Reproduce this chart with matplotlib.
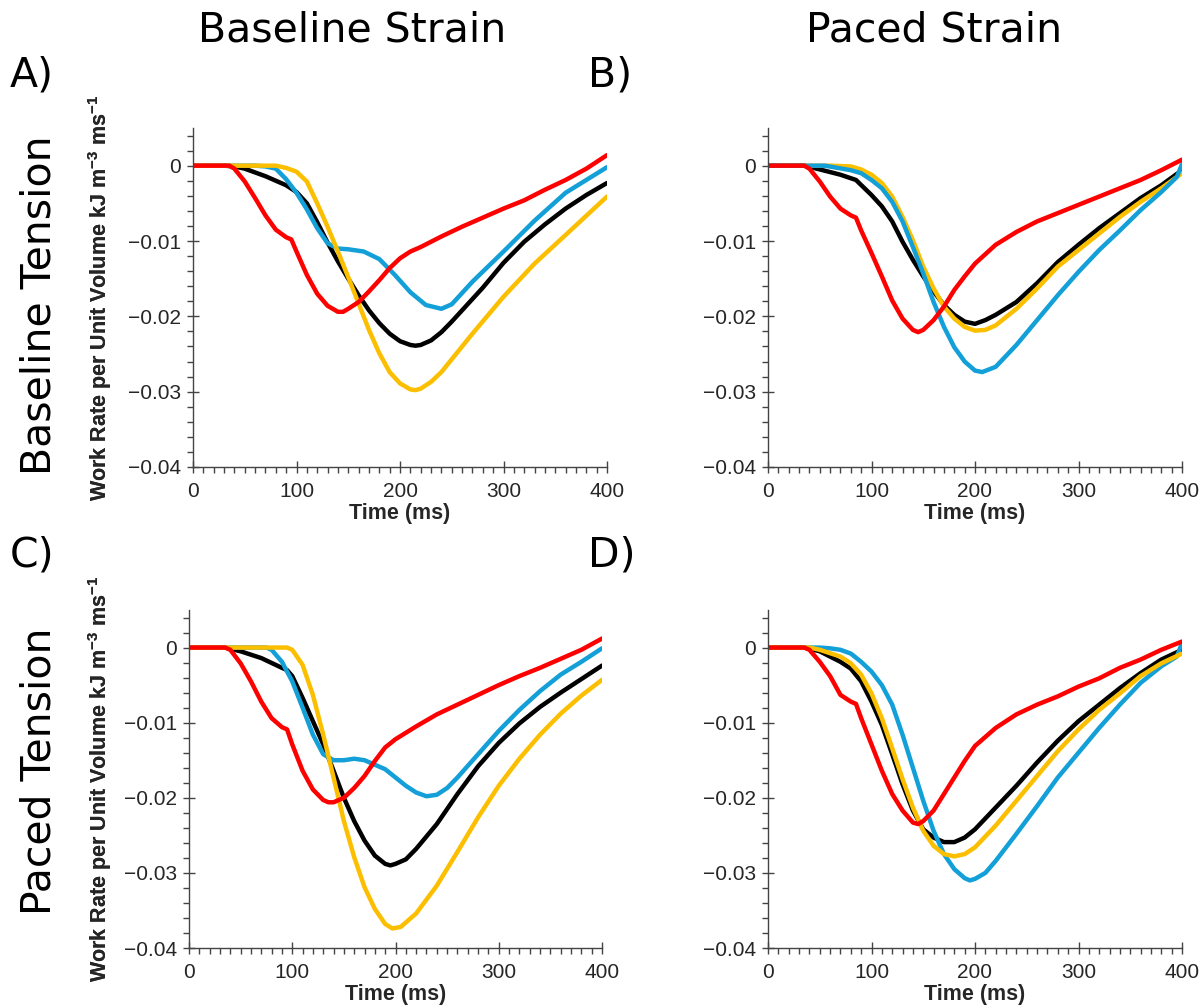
import matplotlib
matplotlib.use("Agg")
import matplotlib.pyplot as plt
from matplotlib.ticker import MultipleLocator

# ---- data (time in ms, work rate in kJ m^-3 ms^-1) ----
# Panel A: baseline tension / baseline strain
a_black_t = [0, 30, 40, 50, 60, 70, 80, 90, 100, 110, 120, 130, 140, 150, 160, 170, 180, 190, 200, 210, 215, 220, 230, 240, 250, 260, 280, 300, 320, 340, 360, 380, 400]
a_black_y = [0, 0, -0.0001, -0.0004, -0.0009, -0.0014, -0.002, -0.0026, -0.0035, -0.005, -0.0075, -0.0102, -0.0127, -0.015, -0.0172, -0.0192, -0.0209, -0.0223, -0.0233, -0.0238, -0.0239, -0.0238, -0.0232, -0.0221, -0.0207, -0.0192, -0.0162, -0.0129, -0.0101, -0.0078, -0.0057, -0.0039, -0.0023]
a_blue_t = [0, 60, 70, 80, 90, 100, 110, 120, 130, 140, 150, 165, 180, 195, 210, 225, 240, 250, 270, 300, 330, 360, 400]
a_blue_y = [0, 0, -0.0001, -0.0004, -0.0018, -0.0036, -0.0058, -0.0083, -0.0103, -0.011, -0.0111, -0.0114, -0.0124, -0.0145, -0.0168, -0.0185, -0.019, -0.0184, -0.0154, -0.0114, -0.0073, -0.0036, -0.0002]
a_yellow_t = [0, 80, 90, 100, 110, 120, 130, 140, 150, 160, 170, 180, 190, 200, 210, 215, 220, 230, 240, 250, 270, 300, 330, 360, 400]
a_yellow_y = [0, 0, -0.0003, -0.0008, -0.0021, -0.005, -0.0081, -0.0114, -0.0148, -0.0183, -0.0218, -0.0249, -0.0274, -0.0289, -0.0297, -0.0298, -0.0296, -0.0287, -0.0274, -0.0257, -0.0223, -0.0174, -0.013, -0.0092, -0.0041]
a_red_t = [0, 35, 40, 50, 60, 70, 80, 90, 95, 100, 110, 120, 130, 140, 145, 150, 160, 170, 180, 190, 200, 210, 220, 240, 260, 280, 300, 320, 340, 360, 380, 400]
a_red_y = [0, 0, -0.0004, -0.0021, -0.0043, -0.0066, -0.0085, -0.0095, -0.0098, -0.0114, -0.0145, -0.017, -0.0186, -0.0194, -0.0194, -0.019, -0.0181, -0.0167, -0.0152, -0.0136, -0.0123, -0.0114, -0.0108, -0.0094, -0.0081, -0.0069, -0.0057, -0.0046, -0.0032, -0.0019, -0.0004, 0.0014]

# Panel B: baseline tension / paced strain
b_black_t = [0, 35, 50, 70, 85, 100, 110, 120, 130, 140, 150, 160, 170, 180, 190, 200, 210, 220, 240, 260, 280, 300, 320, 340, 360, 380, 400]
b_black_y = [0, 0, -0.0005, -0.0012, -0.0019, -0.0039, -0.0054, -0.0074, -0.0101, -0.0125, -0.0147, -0.0167, -0.0185, -0.0198, -0.0207, -0.021, -0.0205, -0.0198, -0.0181, -0.0156, -0.0128, -0.0105, -0.0083, -0.0063, -0.0043, -0.0026, -0.0006]
b_blue_t = [0, 55, 80, 90, 100, 110, 120, 130, 140, 150, 160, 170, 180, 190, 200, 207, 220, 240, 260, 280, 300, 320, 340, 360, 380, 395, 400]
b_blue_y = [0, 0, -0.0006, -0.001, -0.0019, -0.003, -0.0048, -0.0074, -0.0108, -0.0143, -0.0181, -0.0214, -0.0241, -0.026, -0.0272, -0.0274, -0.0267, -0.0238, -0.0205, -0.0172, -0.0141, -0.0112, -0.0086, -0.0059, -0.0035, -0.0015, 0.0002]
b_yellow_t = [0, 60, 80, 90, 100, 110, 120, 130, 140, 150, 160, 170, 180, 190, 200, 210, 220, 240, 260, 280, 300, 320, 340, 360, 380, 400]
b_yellow_y = [0, 0, -0.0001, -0.0005, -0.0012, -0.0023, -0.0041, -0.0068, -0.0099, -0.0134, -0.0163, -0.0187, -0.0203, -0.0214, -0.0219, -0.0218, -0.0212, -0.019, -0.0163, -0.0134, -0.0112, -0.009, -0.0068, -0.0048, -0.003, -0.001]
b_red_t = [0, 35, 40, 50, 60, 70, 80, 85, 90, 100, 110, 120, 130, 140, 145, 150, 160, 170, 180, 190, 200, 220, 240, 260, 280, 300, 320, 340, 360, 380, 400]
b_red_y = [0, 0, -0.0004, -0.0021, -0.0041, -0.0057, -0.0066, -0.0069, -0.0086, -0.0116, -0.0147, -0.0179, -0.0203, -0.0218, -0.0221, -0.0218, -0.0205, -0.0187, -0.0165, -0.0147, -0.013, -0.0105, -0.0088, -0.0074, -0.0063, -0.0052, -0.0041, -0.003, -0.0019, -0.0006, 0.0008]

# Panel C: paced tension / baseline strain
c_black_t = [0, 35, 50, 70, 90, 95, 100, 110, 120, 130, 140, 150, 160, 170, 180, 190, 195, 200, 210, 220, 240, 260, 280, 300, 320, 340, 360, 380, 400]
c_black_y = [0, 0, -0.0005, -0.0014, -0.0027, -0.003, -0.0038, -0.0067, -0.0098, -0.0129, -0.0164, -0.02, -0.0231, -0.0257, -0.0277, -0.0288, -0.029, -0.0288, -0.0282, -0.0268, -0.0235, -0.0195, -0.0158, -0.0127, -0.0101, -0.0079, -0.006, -0.0042, -0.0024]
c_blue_t = [0, 75, 80, 90, 100, 110, 120, 130, 140, 150, 160, 170, 180, 190, 200, 210, 220, 230, 240, 250, 260, 280, 300, 320, 340, 360, 380, 400]
c_blue_y = [0, 0, -0.0003, -0.0019, -0.0045, -0.008, -0.0116, -0.0142, -0.015, -0.015, -0.0148, -0.015, -0.0156, -0.0162, -0.0173, -0.0184, -0.0193, -0.0198, -0.0196, -0.0187, -0.0173, -0.0142, -0.0111, -0.0083, -0.0058, -0.0036, -0.0019, -0.0001]
c_yellow_t = [0, 95, 100, 110, 120, 130, 140, 150, 160, 170, 180, 190, 197, 205, 220, 240, 260, 280, 300, 320, 340, 360, 380, 400]
c_yellow_y = [0, 0, -0.0003, -0.0023, -0.0063, -0.0116, -0.0173, -0.0231, -0.0279, -0.0319, -0.0348, -0.0368, -0.0374, -0.0372, -0.0354, -0.0317, -0.0272, -0.0226, -0.0184, -0.0148, -0.0116, -0.0088, -0.0064, -0.0043]
c_red_t = [0, 35, 40, 50, 60, 70, 80, 90, 95, 100, 110, 120, 130, 135, 140, 150, 160, 170, 180, 190, 200, 220, 240, 260, 280, 300, 320, 340, 360, 380, 400]
c_red_y = [0, 0, -0.0003, -0.0021, -0.0045, -0.0072, -0.0094, -0.0106, -0.0109, -0.0129, -0.0164, -0.0189, -0.0203, -0.0206, -0.0206, -0.02, -0.0187, -0.0171, -0.0151, -0.0133, -0.0122, -0.0105, -0.0089, -0.0076, -0.0063, -0.005, -0.0038, -0.0027, -0.0015, -0.0003, 0.0012]

# Panel D: paced tension / paced strain
d_black_t = [0, 35, 50, 70, 80, 90, 100, 110, 120, 130, 140, 150, 160, 170, 180, 190, 200, 220, 240, 260, 280, 300, 320, 340, 360, 380, 400]
d_black_y = [0, 0, -0.0005, -0.0019, -0.0028, -0.0045, -0.0072, -0.0103, -0.0142, -0.0182, -0.0217, -0.0242, -0.0253, -0.0259, -0.0259, -0.0253, -0.0242, -0.0213, -0.0184, -0.0153, -0.0124, -0.0098, -0.0076, -0.0054, -0.0034, -0.0016, -0.0003]
d_blue_t = [0, 50, 60, 70, 80, 90, 100, 110, 120, 130, 140, 150, 160, 170, 180, 190, 195, 200, 210, 220, 240, 260, 280, 300, 320, 340, 360, 380, 395, 400]
d_blue_y = [0, 0, -0.0001, -0.0003, -0.0008, -0.0019, -0.0032, -0.005, -0.0076, -0.0116, -0.016, -0.0204, -0.0244, -0.0275, -0.0295, -0.0307, -0.031, -0.0308, -0.03, -0.0284, -0.0248, -0.0211, -0.0173, -0.014, -0.0107, -0.0076, -0.0047, -0.0025, -0.0012, 0.0006]
d_yellow_t = [0, 40, 50, 70, 80, 90, 100, 110, 120, 130, 140, 150, 160, 170, 180, 190, 200, 220, 240, 260, 280, 300, 320, 340, 360, 380, 400]
d_yellow_y = [0, 0, -0.0003, -0.0012, -0.0021, -0.0036, -0.0061, -0.0094, -0.0134, -0.0175, -0.0213, -0.0244, -0.0264, -0.0275, -0.0278, -0.0275, -0.0266, -0.0237, -0.0204, -0.0171, -0.0138, -0.0109, -0.0083, -0.0061, -0.0038, -0.0021, -0.0008]
d_red_t = [0, 35, 40, 50, 60, 70, 80, 85, 90, 100, 110, 120, 130, 140, 145, 150, 160, 170, 180, 190, 200, 220, 240, 260, 280, 300, 320, 340, 360, 380, 400]
d_red_y = [0, 0, -0.0003, -0.0019, -0.0038, -0.0063, -0.0072, -0.0075, -0.0094, -0.0129, -0.0164, -0.0195, -0.0217, -0.0233, -0.0235, -0.0231, -0.0217, -0.0195, -0.0173, -0.0151, -0.0131, -0.0107, -0.0089, -0.0076, -0.0065, -0.0052, -0.0041, -0.0027, -0.0016, -0.0003, 0.0008]

col_titles = ["Baseline Strain", "Paced Strain"]
row_titles = ["Baseline Tension", "Paced Tension"]
panel_tags = ["A)", "B)", "C)", "D)"]

BLACK = "#000000"
BLUE = "#139fd8"
YELLOW = "#fcbf00"
RED = "#fe0000"
TICK = "#262626"

panels = [
    [(a_black_t, a_black_y, BLACK), (a_blue_t, a_blue_y, BLUE), (a_yellow_t, a_yellow_y, YELLOW), (a_red_t, a_red_y, RED)],
    [(b_black_t, b_black_y, BLACK), (b_yellow_t, b_yellow_y, YELLOW), (b_blue_t, b_blue_y, BLUE), (b_red_t, b_red_y, RED)],
    [(c_black_t, c_black_y, BLACK), (c_blue_t, c_blue_y, BLUE), (c_yellow_t, c_yellow_y, YELLOW), (c_red_t, c_red_y, RED)],
    [(d_black_t, d_black_y, BLACK), (d_blue_t, d_blue_y, BLUE), (d_yellow_t, d_yellow_y, YELLOW), (d_red_t, d_red_y, RED)],
]

plt.rcParams["mathtext.fontset"] = "custom"
plt.rcParams["mathtext.bf"] = "Liberation Sans:bold"
plt.rcParams["mathtext.rm"] = "Liberation Sans"

W, H = 1202, 1008
fig = plt.figure(figsize=(W / 100, H / 100), dpi=100)

# axes boxes in pixels: left, right, top, bottom
boxes = [(193, 607, 128, 467), (768, 1182, 128, 467),
         (189, 602, 610, 948), (768, 1182, 610, 948)]

for i, (l, r, t, b) in enumerate(boxes):
    ax = fig.add_axes([l / W, 1 - b / H, (r - l) / W, (b - t) / H])
    for x, y, c in panels[i]:
        ax.plot(x, y, color=c, lw=3.2, solid_capstyle="round", solid_joinstyle="round")
    ax.set_xlim(0, 400)
    ax.set_ylim(-0.04, 0.005)
    ax.set_xticks([0, 100, 200, 300, 400])
    ax.set_yticks([-0.04, -0.03, -0.02, -0.01, 0])
    ax.set_yticklabels(["\u22120.04", "\u22120.03", "\u22120.02", "\u22120.01", "0"])
    ax.xaxis.set_minor_locator(MultipleLocator(10))
    ax.yaxis.set_minor_locator(MultipleLocator(0.002))
    for s in ("top", "right"):
        ax.spines[s].set_visible(False)
    for s in ("left", "bottom"):
        ax.spines[s].set_color("#444444")
        ax.spines[s].set_linewidth(1.0)
    ax.tick_params(which="major", direction="inout", length=9, width=1.0,
                   color="#444444", labelsize=15, labelcolor=TICK,
                   labelfontfamily="Liberation Sans")
    ax.tick_params(axis="x", which="major", pad=6)
    ax.tick_params(axis="y", which="major", pad=4)
    ax.tick_params(which="minor", direction="out", length=4, width=1.0,
                   color="#444444")
    ax.set_xlabel("Time (ms)", fontsize=15.5, fontweight="bold", color=TICK,
                  family="Liberation Sans")
    ax.xaxis.set_label_coords(0.5, -36 / (b - t))
    ax.set_ylabel(r"Work Rate per Unit Volume kJ m$^{\mathbf{-3}}$ ms$^{\mathbf{-1}}$",
                  fontsize=15.5, fontweight="bold", color=TICK,
                  family="Liberation Sans")
    ax.yaxis.set_label_coords(-(l - 114) / (r - l), 0.5)

title_kw = dict(fontsize=29.5, family="DejaVu Sans", color="black")
fig.text(352 / W, 1 - 30 / H, col_titles[0], ha="center", va="center", **title_kw)
fig.text(934 / W, 1 - 30 / H, col_titles[1], ha="center", va="center", **title_kw)
fig.text(40 / W, 1 - 305 / H, row_titles[0], ha="center", va="center", rotation=90, **title_kw)
fig.text(40 / W, 1 - 771 / H, row_titles[1], ha="center", va="center", rotation=90, **title_kw)
tag_pos = [(10, 76), (588, 76), (10, 556), (588, 556)]
for tag, (px, py) in zip(panel_tags, tag_pos):
    fig.text(px / W, 1 - py / H, tag, ha="left", va="center", **title_kw)

fig.savefig("out.png", dpi=100)
